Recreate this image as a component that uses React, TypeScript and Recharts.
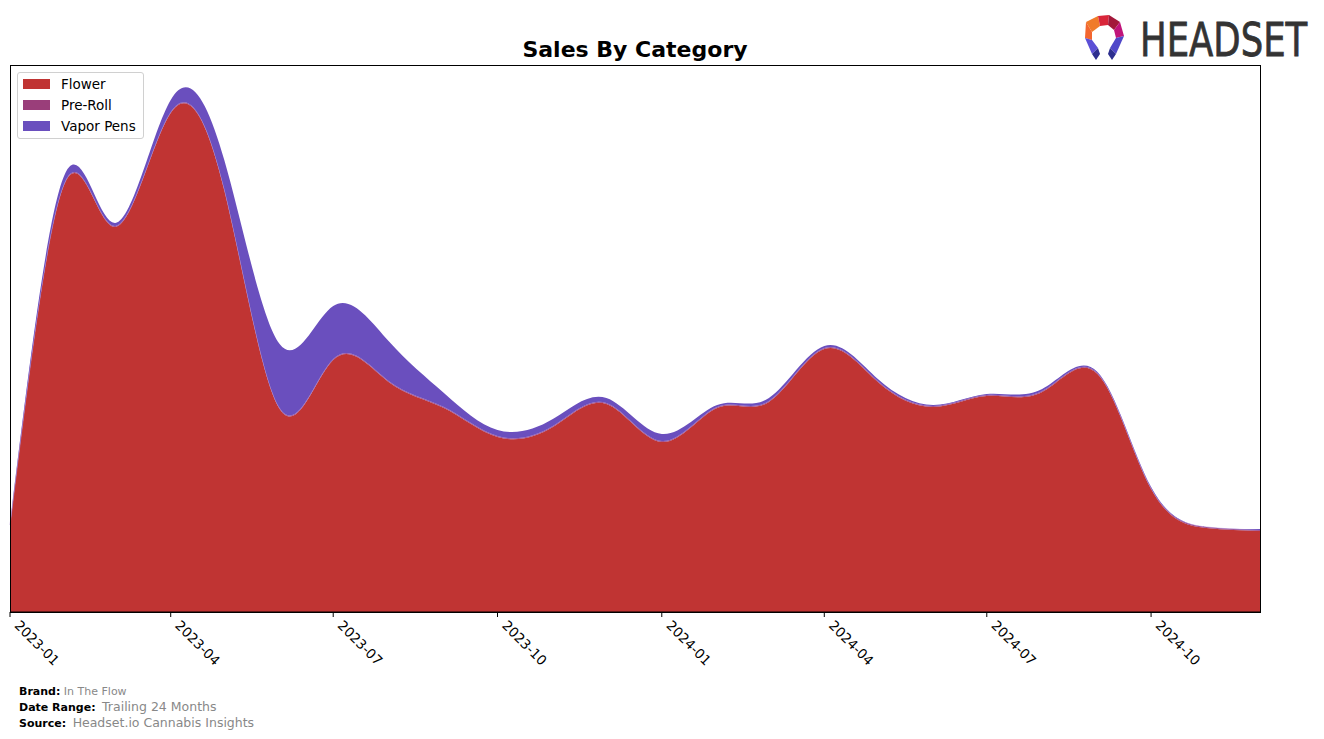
import React from "react";
import { AreaChart, Area, XAxis, YAxis } from "recharts";

const months = [
  "2023-01", "2023-02", "2023-03", "2023-04", "2023-05", "2023-06",
  "2023-07", "2023-08", "2023-09", "2023-10", "2023-11", "2023-12",
  "2024-01", "2024-02", "2024-03", "2024-04", "2024-05", "2024-06",
  "2024-07", "2024-08", "2024-09", "2024-10", "2024-11", "2024-12",
];
const flower = [86, 430, 385, 499, 422, 203, 252, 230, 204, 175, 185, 208, 170, 204, 210, 263, 230, 205, 216, 220, 238, 123, 84, 81];
const preRoll = [1, 1, 1, 1, 1, 1, 1, 1, 1, 1, 1, 1, 1, 1, 1, 1, 1, 1, 1, 1, 1, 1, 1, 1];
const vaporPens = [1, 8, 3, 12, 29, 64, 53, 40, 14, 6, 7, 5, 7, 2, 3, 2, 2, 1, 1, 2, 1, 1, 0, 1];
const tickMonths = ["2023-01", "2023-04", "2023-07", "2023-10", "2024-01", "2024-04", "2024-07", "2024-10"];

const COLORS = { flower: "#c03433", preRoll: "#9a3e7a", vapor: "#6a4fbe" };
const FONT = "'DejaVu Sans', sans-serif";

const toTime = (m: string) => {
  const [y, mo] = m.split("-").map(Number);
  return Date.UTC(y, mo - 1, 1);
};

const data = months.map((m, i) => ({
  t: toTime(m),
  flower: flower[i],
  preRoll: preRoll[i],
  vapor: vaporPens[i],
}));

const labelFor = (t: number) => {
  const d = new Date(t);
  return `${d.getUTCFullYear()}-${String(d.getUTCMonth() + 1).padStart(2, "0")}`;
};

const DateTick = (props: any) => {
  const { x, y, payload } = props;
  const ax = x + 11;
  const ay = y - 1;
  return (
    <text
      x={ax}
      y={ay}
      transform={`rotate(45 ${ax} ${ay})`}
      textAnchor="start"
      dominantBaseline="hanging"
      fontSize={13.5}
      fontFamily={FONT}
      fill="#000"
    >
      {labelFor(payload.value)}
    </text>
  );
};

const legendItems = [
  { name: "Flower", color: COLORS.flower },
  { name: "Pre-Roll", color: COLORS.preRoll },
  { name: "Vapor Pens", color: COLORS.vapor },
];

// legend drawn as an overlay so it doesn't shrink the plot area
const LegendBox = () => (
  <div
    style={{
      position: "absolute",
      left: 17,
      top: 72,
      border: "1px solid #d0d0d0",
      borderRadius: 3,
      background: "rgba(255,255,255,0.8)",
      padding: "0px 6px 2px 5px",
      fontSize: 13.5,
      width: 114,
    }}
  >
    {legendItems.map((it) => (
      <div key={it.name} style={{ display: "flex", alignItems: "center", height: 21 }}>
        <span style={{ display: "inline-block", width: 27, height: 10, background: it.color, marginRight: 11 }} />
        <span>{it.name}</span>
      </div>
    ))}
  </div>
);

const Logo = () => (
  <svg width={240} height={60} style={{ position: "absolute", left: 1080, top: 10 }}>
    <polygon points="6,12 18,6 20,16 12,22" fill="#f07b2a" />
    <polygon points="18,6 29,5 28,15 20,16" fill="#d9263a" />
    <polygon points="29,5 40,12 34,20 28,15" fill="#a3183a" />
    <polygon points="40,12 44,26 36,28 34,20" fill="#c0147a" />
    <polygon points="6,12 12,22 12,30 5,28" fill="#f3662f" />
    <polygon points="5,28 12,30 18,38 12,44" fill="#5b4fd6" />
    <polygon points="12,44 18,38 20,44 16,50" fill="#2d2f8f" />
    <polygon points="44,26 36,28 30,38 36,44" fill="#4f47c9" />
    <polygon points="36,44 30,38 28,44 32,50" fill="#2d2f8f" />
    <text
      transform="translate(60 46) scale(0.755 1)"
      fontFamily={FONT}
      fontSize={47}
      fill="#333"
      stroke="#333"
      strokeWidth={0.8}
    >
      HEADSET
    </text>
  </svg>
);

export default function App() {
  return (
    <div style={{ position: "absolute", left: 0, top: 0, width: 1324, height: 739, background: "#fff", fontFamily: FONT }}>
      <div
        style={{
          position: "absolute",
          left: 0,
          width: 1270,
          top: 37,
          textAlign: "center",
          fontWeight: "bold",
          fontSize: 22,
          color: "#000",
        }}
      >
        Sales By Category
      </div>
      <Logo />
      <AreaChart
        width={1324}
        height={739}
        data={data}
        margin={{ top: 65, right: 64, bottom: 0, left: 10 }}
        style={{ position: "absolute", left: 0, top: 0 }}
      >
        <XAxis
          dataKey="t"
          type="number"
          scale="time"
          domain={[toTime(months[0]), toTime(months[months.length - 1])]}
          ticks={tickMonths.map(toTime)}
          tick={<DateTick />}
          tickSize={5}
          tickMargin={3}
          axisLine={{ stroke: "#000" }}
          tickLine={{ stroke: "#000" }}
          height={127}
          interval={0}
        />
        <YAxis hide domain={[0, 547]} allowDataOverflow />
        <Area type="natural" dataKey="flower" name="Flower" stackId="1" stroke="none" fill={COLORS.flower} fillOpacity={1} isAnimationActive={false} />
        <Area type="natural" dataKey="preRoll" name="Pre-Roll" stackId="1" stroke="#b08ad8" strokeWidth={0.6} fill={COLORS.preRoll} fillOpacity={1} isAnimationActive={false} />
        <Area type="natural" dataKey="vapor" name="Vapor Pens" stackId="1" stroke="none" fill={COLORS.vapor} fillOpacity={1} isAnimationActive={false} />
      </AreaChart>
      <div
        style={{
          position: "absolute",
          left: 10,
          top: 65,
          width: 1251,
          height: 548,
          border: "1px solid #000",
          boxSizing: "border-box",
          pointerEvents: "none",
        }}
      />
      <LegendBox />
      <div style={{ position: "absolute", left: 19, top: 684, fontSize: 11, lineHeight: "15px" }}>
        <div>
          <b>Brand:</b> <span style={{ color: "#888" }}>In The Flow</span>
        </div>
        <div>
          <b>Date Range:</b> <span style={{ color: "#888", fontSize: 12.5, marginLeft: 3 }}>Trailing 24 Months</span>
        </div>
        <div>
          <b>Source:</b> <span style={{ color: "#888", fontSize: 12.5, marginLeft: 3 }}>Headset.io Cannabis Insights</span>
        </div>
      </div>
    </div>
  );
}
